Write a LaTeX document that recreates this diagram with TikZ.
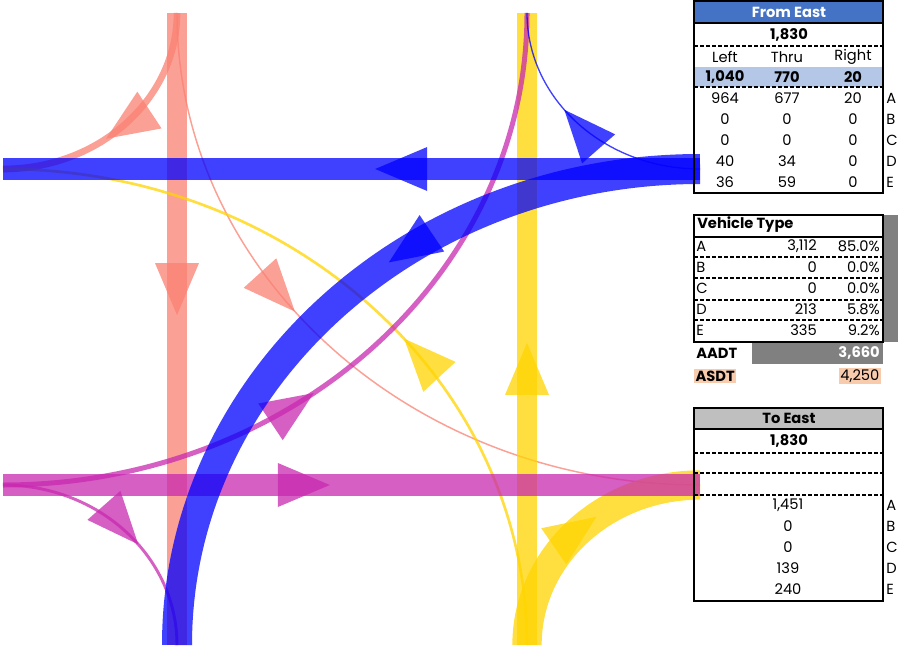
\documentclass[tikz,border=0pt]{standalone}
\usepackage{fontspec}
\setmainfont{Poppins}
\usetikzlibrary{decorations.markings}

\definecolor{salmonc}{HTML}{FA8072}
\definecolor{goldc}{HTML}{FFD400}
\definecolor{magentac}{HTML}{C829B0}
\definecolor{bluec}{HTML}{0000FF}
\definecolor{headblue}{HTML}{4472C4}
\definecolor{rowblue}{HTML}{B4C7E7}
\definecolor{headgray}{HTML}{BFBFBF}
\definecolor{bargray}{HTML}{808080}
\definecolor{peach}{HTML}{F8CBAD}

\tikzset{
  flow/.style={draw=#1, draw opacity=.75, line cap=butt},
  tipat/.style 2 args={postaction={decorate, decoration={markings,
      mark=at position #1 with {\fill[#2, fill opacity=.75] (0,0) -- (-52,22) -- (-52,-22) -- cycle;}}}},
  box/.style={draw=black, line width=1.5pt},
  dashline/.style={draw=black, line width=1pt, dash pattern=on 3pt off 1.5pt},
  txt/.style={inner sep=0pt, font=\fontsize{11}{13}\selectfont},
  btxt/.style={txt, font=\fontsize{11}{13}\selectfont\bfseries},
}

\begin{document}
\begin{tikzpicture}[x=0.75pt, y=-0.75pt]
    \useasboundingbox (0,0) rectangle (898,645);

    % Approach points
    \coordinate (nIn) at (177,13);
    \coordinate (nOut) at (527,13);
    \coordinate (sIn) at (527,645);
    \coordinate (sOut) at (177,645);
    \coordinate (eIn) at (700,169);
    \coordinate (eOut) at (700,485);
    \coordinate (wIn) at (3,485);
    \coordinate (wOut) at (3,169);

    % From North
    \draw[flow=salmonc, line width=15.5pt, tipat={0.478}{salmonc}] (nIn) -- (sOut);
    \draw[flow=salmonc, line width=5pt, tipat={0.58}{salmonc}] (nIn) arc[start angle=0, end angle=90, x radius=174, y radius=156];
    \draw[flow=salmonc, line width=1.1pt, tipat={0.42}{salmonc}] (nIn) arc[start angle=180, end angle=90, x radius=523, y radius=472];

    % From South
    \draw[flow=goldc, line width=15pt, tipat={0.478}{goldc}] (sIn) -- (nOut);
    \draw[flow=goldc, line width=2pt, tipat={0.43}{goldc}] (sIn) arc[start angle=0, end angle=-90, x radius=524, y radius=476];
    \draw[flow=goldc, line width=22pt, tipat={0.58}{goldc}] (sIn) arc[start angle=180, end angle=270, x radius=173, y radius=160];

    % From West
    \draw[flow=magentac, line width=16.5pt, tipat={0.469}{magentac}] (wIn) -- (eOut);
    \draw[flow=magentac, line width=3.75pt, tipat={0.42}{magentac}] (wIn) arc[start angle=90, end angle=0, x radius=524, y radius=472];
    \draw[flow=magentac, line width=2.2pt, tipat={0.58}{magentac}] (wIn) arc[start angle=270, end angle=360, x radius=174, y radius=160];

    % From East
    \draw[flow=bluec, line width=16.5pt, tipat={0.466}{bluec}] (eIn) -- (wOut);
    \draw[flow=bluec, line width=22.5pt, tipat={0.42}{bluec}] (eIn) arc[start angle=270, end angle=180, x radius=523, y radius=476];
    \draw[flow=bluec, line width=1pt, tipat={0.59}{bluec}] (eIn) arc[start angle=90, end angle=180, x radius=173, y radius=156];

    % From East table
    \fill[headblue] (694,1) rectangle (883,23);
    \fill[rowblue] (694,67) rectangle (883,87);
    \draw[dashline] (694,46) -- (883,46);
    \draw[dashline] (694,87) -- (883,87);
    \draw[box] (694,23) -- (883,23);
    \draw[box] (694,1) rectangle (883,193);
    \node[btxt, text=white] (feHead) at (789,12) {From East};
    \node[btxt] (feTotal) at (789,35) {1,830};
    \node[txt] (feLeft) at (725,57) {Left};
    \node[txt] (feThru) at (787,57) {Thru};
    \node[txt] (feRight) at (853,57) {Right};
    \node[btxt] (feLeftSum) at (725,77) {1,040};
    \node[btxt] (feThruSum) at (787,77) {770};
    \node[btxt] (feRightSum) at (853,77) {20};
    \foreach \cls/\l/\t/\r/\y in {A/964/677/20/98, B/0/0/0/119, C/0/0/0/140, D/40/34/0/161, E/36/59/0/182} {
        \node[txt] (feL\cls) at (725,\y) {\l};
        \node[txt] (feT\cls) at (787,\y) {\t};
        \node[txt] (feR\cls) at (853,\y) {\r};
        \node[txt, anchor=west] (feC\cls) at (886,\y) {\cls};
    }

    % Vehicle type table
    \fill[bargray] (884,215) rectangle (898,342);
    \fill[bargray] (752,342) rectangle (883,364);
    \foreach \y in {257,278,300,320} {
        \draw[dashline] (694,\y) -- (883,\y);
    }
    \draw[box] (694,237) -- (883,237);
    \draw[box] (694,215) rectangle (883,342);
    \node[btxt, anchor=west] (vtHead) at (697,225) {Vehicle Type};
    \foreach \cls/\n/\p/\y in {A/{3,112}/85.0\%/246, B/0/0.0\%/267, C/0/0.0\%/288, D/213/5.8\%/309, E/335/9.2\%/330} {
        \node[txt, anchor=west] (vt\cls) at (696,\y) {\cls};
        \node[txt, anchor=east] (vtN\cls) at (817,\y) {\n};
        \node[txt, anchor=east] (vtP\cls) at (880,\y) {\p};
    }
    \node[btxt, anchor=west] (aadt) at (696,353) {AADT};
    \node[btxt, anchor=east, text=white] (aadtVal) at (880,353) {3,660};
    \node[btxt, anchor=west, fill=peach, inner xsep=1pt, inner ysep=1.5pt] (asdt) at (694,376) {ASDT};
    \node[txt, anchor=east, fill=peach, inner xsep=1pt, inner ysep=1.5pt] (asdtVal) at (881,376) {4,250};

    % To East table
    \fill[headgray] (694,408) rectangle (883,429);
    \foreach \y in {453,473,495} {
        \draw[dashline] (694,\y) -- (883,\y);
    }
    \draw[box] (694,429) -- (883,429);
    \draw[box] (694,408) rectangle (883,601);
    \node[btxt] (teHead) at (789,418) {To East};
    \node[btxt] (teTotal) at (789,441) {1,830};
    \foreach \cls/\n/\y in {A/{1,451}/505, B/0/526, C/0/547, D/139/568, E/240/589} {
        \node[txt] (teN\cls) at (788,\y) {\n};
        \node[txt, anchor=west] (teC\cls) at (886,\y) {\cls};
    }
\end{tikzpicture}
\end{document}
